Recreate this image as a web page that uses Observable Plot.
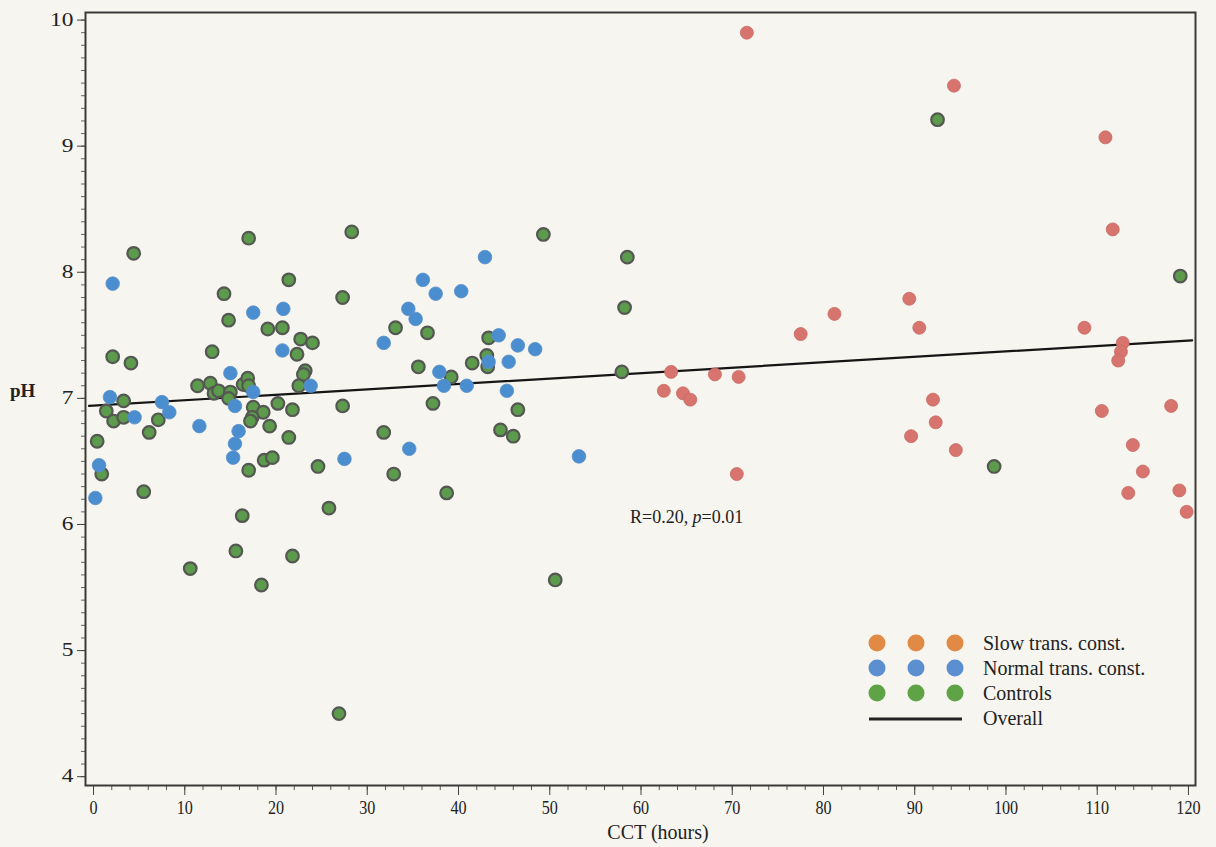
<!DOCTYPE html>
<html><head><meta charset="utf-8">
<script src="https://cdn.jsdelivr.net/npm/d3@7"></script>
<script src="https://cdn.jsdelivr.net/npm/@observablehq/plot@0.6"></script>
<style>
html,body{margin:0;padding:0;background:#f6f5ef;}
#wrap{position:relative;width:1216px;height:847px;font-family:"Liberation Serif",serif;color:#222;}
.lbl{position:absolute;white-space:nowrap;}
</style></head>
<body><div id="wrap"></div>
<script>
// Slow transit constipation (CCT hours, pH)
const slowX = [71.6, 94.3, 110.9, 111.7, 89.4, 81.2, 90.5, 77.5, 108.6, 112.8, 112.6, 112.3, 63.3, 68.1, 70.7, 62.5, 64.6, 65.4, 92.0, 110.5, 118.1, 92.3, 89.6, 94.5, 113.9, 115.0, 70.5, 113.4, 119.0, 119.8];
const slowY = [9.90, 9.48, 9.07, 8.34, 7.79, 7.67, 7.56, 7.51, 7.56, 7.44, 7.37, 7.30, 7.21, 7.19, 7.17, 7.06, 7.04, 6.99, 6.99, 6.90, 6.94, 6.81, 6.70, 6.59, 6.63, 6.42, 6.40, 6.25, 6.27, 6.10];
// Normal transit constipation
const normalX = [2.1, 0.2, 0.6, 1.8, 4.5, 7.5, 8.3, 11.6, 15.0, 15.5, 15.5, 15.3, 15.9, 17.5, 17.5, 20.8, 20.7, 23.8, 27.5, 31.8, 34.5, 35.3, 36.1, 37.5, 40.3, 42.9, 37.9, 38.4, 40.9, 34.6, 44.4, 46.5, 48.4, 45.5, 43.3, 45.3, 53.2];
const normalY = [7.91, 6.21, 6.47, 7.01, 6.85, 6.97, 6.89, 6.78, 7.20, 6.94, 6.64, 6.53, 6.74, 7.68, 7.05, 7.71, 7.38, 7.10, 6.52, 7.44, 7.71, 7.63, 7.94, 7.83, 7.85, 8.12, 7.21, 7.10, 7.10, 6.60, 7.50, 7.42, 7.39, 7.29, 7.29, 7.06, 6.54];
// Controls
const controlX = [4.4, 17.0, 28.3, 49.3, 58.5, 21.4, 14.3, 27.3, 58.2, 14.8, 19.1, 20.7, 33.1, 36.6, 22.7, 24.0, 2.1, 4.1, 13.0, 22.3, 23.2, 23.0, 35.6, 41.5, 43.3, 43.1, 43.2, 39.2, 11.4, 12.8, 13.2, 13.7, 15.0, 16.4, 16.9, 17.0, 14.8, 22.5, 20.2, 21.8, 17.5, 18.6, 17.4, 17.2, 19.3, 21.4, 27.3, 37.2, 46.5, 44.6, 46.0, 31.8, 32.9, 38.7, 24.6, 18.7, 19.6, 17.0, 16.3, 25.8, 15.6, 21.8, 10.6, 18.4, 26.9, 50.6, 57.9, 98.7, 119.1, 92.5, 3.3, 1.4, 2.2, 3.3, 7.1, 6.1, 0.4, 0.9, 5.5];
const controlY = [8.15, 8.27, 8.32, 8.30, 8.12, 7.94, 7.83, 7.80, 7.72, 7.62, 7.55, 7.56, 7.56, 7.52, 7.47, 7.44, 7.33, 7.28, 7.37, 7.35, 7.22, 7.19, 7.25, 7.28, 7.48, 7.34, 7.25, 7.17, 7.10, 7.12, 7.04, 7.06, 7.05, 7.11, 7.16, 7.10, 7.00, 7.10, 6.96, 6.91, 6.93, 6.89, 6.85, 6.82, 6.78, 6.69, 6.94, 6.96, 6.91, 6.75, 6.70, 6.73, 6.40, 6.25, 6.46, 6.51, 6.53, 6.43, 6.07, 6.13, 5.79, 5.75, 5.65, 5.52, 4.50, 5.56, 7.21, 6.46, 7.97, 9.21, 6.98, 6.90, 6.82, 6.85, 6.83, 6.73, 6.66, 6.40, 6.26];
// Overall regression line end points
const lineX = [-0.5, 120.4];
const lineY = [6.94, 7.46];
// Axis ticks
const xMajor = [0, 10, 20, 30, 40, 50, 60, 70, 80, 90, 100, 110, 120];
const xMinor = d3.range(0, 121, 2);
const yMajor = [4, 5, 6, 7, 8, 9, 10];
const yMinor = d3.range(40, 101, 1).map(v => v / 10);
const legendLabels = ["Slow trans. const.", "Normal trans. const.", "Controls", "Overall"];
const annotationX = [65.0];
const annotationY = [6.06];

const toRows = (xs, ys) => xs.map((x, i) => ({x, y: ys[i]}));
const slow = toRows(slowX, slowY);
const normal = toRows(normalX, normalY);
const controls = toRows(controlX, controlY);
const line = toRows(lineX, lineY);
const annot = toRows(annotationX, annotationY);

const plot = Plot.plot({
  width: 1216, height: 847,
  marginLeft: 85, marginRight: 21, marginTop: 12, marginBottom: 62,
  x: {domain: [-0.88, 120.77]},
  y: {domain: [3.93, 10.06]},
  style: {background: "#f6f5ef", fontFamily: "Liberation Serif", fontSize: "17px", color: "#222", overflow: "visible"},
  marks: [
    Plot.axisX(xMinor, {tickSize: 5, text: null, stroke: "#555", label: null}),
    Plot.axisX(xMajor, {tickSize: 10, tickPadding: 5, stroke: "#444", fill: "#222", label: null, fontSize: 19, tickFormat: d3.format("d")}),
    Plot.axisY(yMinor, {tickSize: 4, text: null, stroke: "#666", label: null}),
    Plot.axisY(yMajor, {tickSize: 8, tickPadding: 4, stroke: "#444", fill: "#222", label: null, fontSize: 18, tickFormat: d3.format("d")}),
    Plot.frame({stroke: "#3a3a3a", strokeWidth: 2}),
    Plot.line(line, {x: "x", y: "y", stroke: "#151515", strokeWidth: 2.2}),
    Plot.dot(controls, {x: "x", y: "y", r: 6.3, fill: "#5c9a4c", stroke: "#555753", strokeWidth: 2.2}),
    Plot.dot(normal, {x: "x", y: "y", r: 6.8, fill: "#4a8ed0", stroke: "#5a90c8", strokeWidth: 0.8}),
    Plot.dot(slow, {x: "x", y: "y", r: 6.5, fill: "#d8746e", stroke: "#c86a64", strokeWidth: 0.8}),
    Plot.text(annot, {x: "x", y: "y", text: () => "R=0.20, p=0.01", fontSize: 18, fill: "#222", textAnchor: "middle", className: "annot"})
  ]
});

// adjust tick label proportions, italicize p in annotation
const svg = d3.select(plot);
svg.selectAll("g[aria-label='x-axis tick label'] text").each(function() {
  const t = this.getAttribute("transform") || "";
  this.setAttribute("transform", t + " scale(0.85,1)");
});
svg.selectAll("g[aria-label='y-axis tick label'] text").each(function() {
  const t = this.getAttribute("transform") || "";
  this.setAttribute("transform", t + " scale(1.3,1)");
});
svg.selectAll(".annot text").each(function() {
  const el = d3.select(this);
  el.text(null);
  el.append("tspan").text("R=0.20, ");
  el.append("tspan").attr("font-style", "italic").text("p");
  el.append("tspan").text("=0.01");
});

const wrap = document.getElementById("wrap");
wrap.appendChild(plot);

// axis titles
const xt = document.createElement("div");
xt.className = "lbl"; xt.textContent = "CCT (hours)";
xt.style.cssText = "left:658px;top:821px;transform:translateX(-50%);font-size:20px;";
wrap.appendChild(xt);
const yt = document.createElement("div");
yt.className = "lbl"; yt.textContent = "pH";
yt.style.cssText = "left:10px;top:380px;font-size:19px;font-weight:bold;";
wrap.appendChild(yt);

// legend
const legendColors = ["#e08a45", "#5b8fd0", "#5fa346"];
const lg = d3.select(wrap).append("svg")
  .attr("width", 340).attr("height", 100)
  .style("position", "absolute").style("left", "860px").style("top", "630px");
legendColors.forEach((c, i) => {
  [17, 56, 95].forEach(cx => lg.append("circle").attr("cx", cx).attr("cy", 13 + 25 * i).attr("r", 8.5).attr("fill", c));
});
lg.append("line").attr("x1", 9).attr("x2", 102).attr("y1", 89).attr("y2", 89).attr("stroke", "#222").attr("stroke-width", 3);
legendLabels.forEach((t, i) => {
  lg.append("text").attr("x", 123).attr("y", 13 + 25 * i).attr("dy", "0.35em")
    .attr("font-family", "Liberation Serif").attr("font-size", 20).attr("fill", "#222").text(t);
});
</script>
</body></html>
